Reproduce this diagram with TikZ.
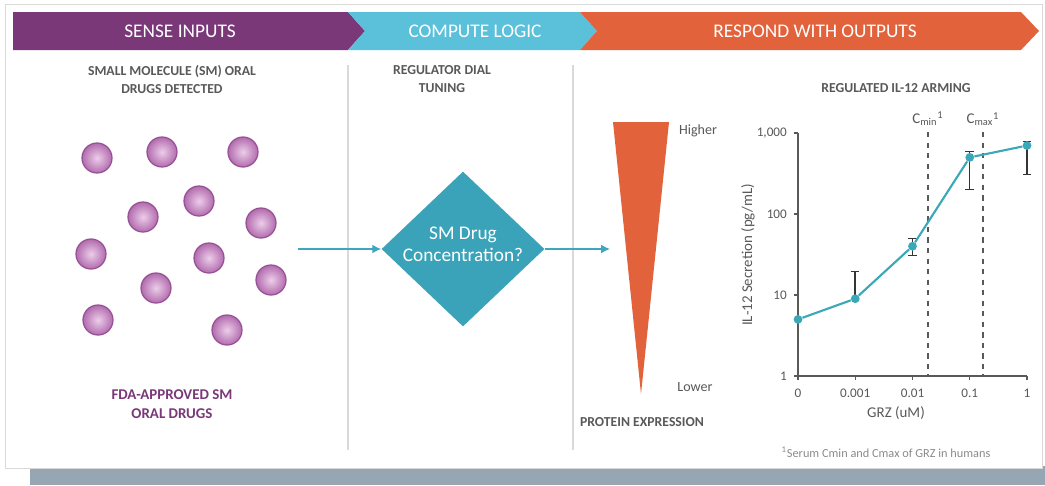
\documentclass[tikz,border=0pt]{standalone}
\usepackage{fontspec}
\setmainfont{Carlito}
\usetikzlibrary{shapes.geometric,arrows.meta}

\definecolor{sensepurple}{RGB}{122,56,120}
\definecolor{computecyan}{RGB}{91,192,218}
\definecolor{respondorange}{RGB}{226,98,59}
\definecolor{dialteal}{RGB}{58,163,185}
\definecolor{flowteal}{RGB}{63,166,192}
\definecolor{curveteal}{RGB}{58,168,182}
\definecolor{textgrey}{RGB}{89,89,89}
\definecolor{sepgrey}{RGB}{217,217,217}
\definecolor{ballrim}{RGB}{150,80,148}
\definecolor{ballin}{RGB}{236,205,233}
\definecolor{ballout}{RGB}{178,108,174}
\definecolor{bandgrey}{RGB}{151,166,179}

\begin{document}
\begin{tikzpicture}[x=0.02cm, y=-0.02cm,
    declare function={ly(\v)=376-81*log10(\v);},
    bannertext/.style={text=white, font=\fontsize{11}{13}\selectfont},
    heading/.style={text=textgrey, font=\bfseries\fontsize{7.8}{10.2}\selectfont, align=center},
    drug/.style={circle, minimum size=0.6cm, inner sep=0pt, draw=ballrim, line width=0.7pt,
                 inner color=ballin, outer color=ballout},
    flow/.style={draw=flowteal, line width=0.8pt, -{Latex[length=5pt,width=5pt]}},
    ticklabel/.style={text=textgrey, font=\fontsize{7.5}{9}\selectfont},
    datapt/.style={circle, fill=curveteal, minimum size=5pt, inner sep=0pt},
    errbar/.style={draw=textgrey!60!black, line width=0.6pt},
    cline/.style={draw=textgrey, dashed, line width=0.6pt}]
  \useasboundingbox (0,0) rectangle (1045,485);

  % panel and shadow band
  \fill[bandgrey] (30,466) rectangle (1045,485);
  \draw[fill=white, draw=sepgrey] (5,4) rectangle (1042,468);

  % banner
  \fill[sensepurple] (13,12) -- (348,12) -- (365,31) -- (348,50) -- (13,50) -- cycle;
  \fill[computecyan] (348,12) -- (580,12) -- (597,31) -- (580,50) -- (348,50) -- (365,31) -- cycle;
  \fill[respondorange] (580,12) -- (1021,12) -- (1039,31) -- (1021,50) -- (580,50) -- (597,31) -- cycle;
  \node[bannertext] (sense) at (180,31) {SENSE INPUTS};
  \node[bannertext] (compute) at (475,31) {COMPUTE LOGIC};
  \node[bannertext] (respond) at (815,31) {RESPOND WITH OUTPUTS};

  \draw[sepgrey, line width=0.8pt] (348,65) -- (348,450)
                                   (573,65) -- (573,450);

  \node[heading] (smhead) at (172,79) {SMALL MOLECULE (SM) ORAL\\DRUGS DETECTED};
  \node[heading] (dialhead) at (442,79) {REGULATOR DIAL\\TUNING};
  \node[heading] (armhead) at (896,88) {REGULATED IL-12 ARMING};

  % drug molecules
  \foreach \x/\y [count=\n] in {97/158, 162/152, 243/152, 143/217, 199/201, 261/223,
                                91/254, 209/258, 156/288, 271/280, 98/320, 227/330}
    \node[drug] (drug\n) at (\x,\y) {};
  \node[heading, text=sensepurple, font=\bfseries\fontsize{8.5}{10.5}\selectfont] (fda) at (172,404)
    {FDA-APPROVED SM\\ORAL DRUGS};

  % regulator dial
  \node[diamond, fill=dialteal, minimum width=3.26cm, minimum height=3.1cm, inner sep=0pt] (dial) at (463,249) {};
  \node[text=white, align=center, font=\fontsize{11}{12.5}\selectfont] (dialtxt) at (463,244)
    {SM Drug\\Concentration?};
  \coordinate (drugsout) at (298,249);
  \coordinate (exprin) at (610,249);
  \draw[flow] (drugsout) -- (dial.west);
  \draw[flow] (dial.east) -- (exprin);

  % expression wedge
  \fill[respondorange] (613,122) -- (669,122) -- (641,394) -- cycle;
  \node[ticklabel, font=\fontsize{8}{9}\selectfont] (higher) at (698,131) {Higher};
  \node[ticklabel, font=\fontsize{8}{9}\selectfont] (lower) at (695,387) {Lower};
  \node[heading] (protein) at (642,422) {PROTEIN EXPRESSION};

  % chart
  \draw[textgrey, line width=0.9pt] (798,133) -- (798,376) -- (1027,376);
  \foreach \e/\lab in {0/1, 1/10, 2/100, 3/{1,000}} {
    \draw[textgrey, line width=0.7pt] (794,376-81*\e) -- (798,376-81*\e);
    \node[ticklabel, anchor=east] (ytick\e) at (793,376-81*\e) {\lab};
  }
  \foreach \i/\lab in {0/0, 1/0.001, 2/0.01, 3/0.1, 4/1} {
    \draw[textgrey, line width=0.7pt] (798+57.25*\i,376) -- (798+57.25*\i,380);
    \node[ticklabel] (xtick\i) at (798+57.25*\i,393) {\lab};
  }
  \node[ticklabel, font=\fontsize{8.5}{10}\selectfont, rotate=90] (ylab) at (748,255) {IL-12 Secretion (pg/mL)};
  \node[ticklabel, font=\fontsize{8.5}{10}\selectfont] (xlab) at (896,413) {GRZ (uM)};

  \coordinate (cmintop) at (928,132);
  \coordinate (cmaxtop) at (983,132);
  \draw[cline] (cmintop) -- (928,376);
  \draw[cline] (cmaxtop) -- (983,376);
  \node[ticklabel, font=\fontsize{8.5}{10}\selectfont, anchor=south] (cmin) at (cmintop)
    {C\textsubscript{min}\textsuperscript{1}};
  \node[ticklabel, font=\fontsize{8.5}{10}\selectfont, anchor=south] (cmax) at (cmaxtop)
    {C\textsubscript{max}\textsuperscript{1}};

  % error bars
  \draw[errbar, -{Bar[width=5pt]}] (855,{ly(9)}) -- (855,{ly(20)});
  \foreach \i/\lo/\hi in {2/30/50, 3/200/600, 4/300/800}
    \draw[errbar, {Bar[width=5pt]}-{Bar[width=5pt]}] (798+57.25*\i,{ly(\lo)}) -- (798+57.25*\i,{ly(\hi)});

  % data
  \foreach \i/\v in {0/5, 1/9, 2/40, 3/500, 4/700}
    \node[datapt] (pt\i) at (798+57.25*\i,{ly(\v)}) {};
  \draw[curveteal, line width=1.2pt] (pt0) -- (pt1) -- (pt2) -- (pt3) -- (pt4);

  \node[ticklabel, text=textgrey!70, font=\fontsize{7}{8}\selectfont] (foot) at (886,452)
    {\textsuperscript{1}Serum Cmin and Cmax of GRZ in humans};
\end{tikzpicture}
\end{document}
